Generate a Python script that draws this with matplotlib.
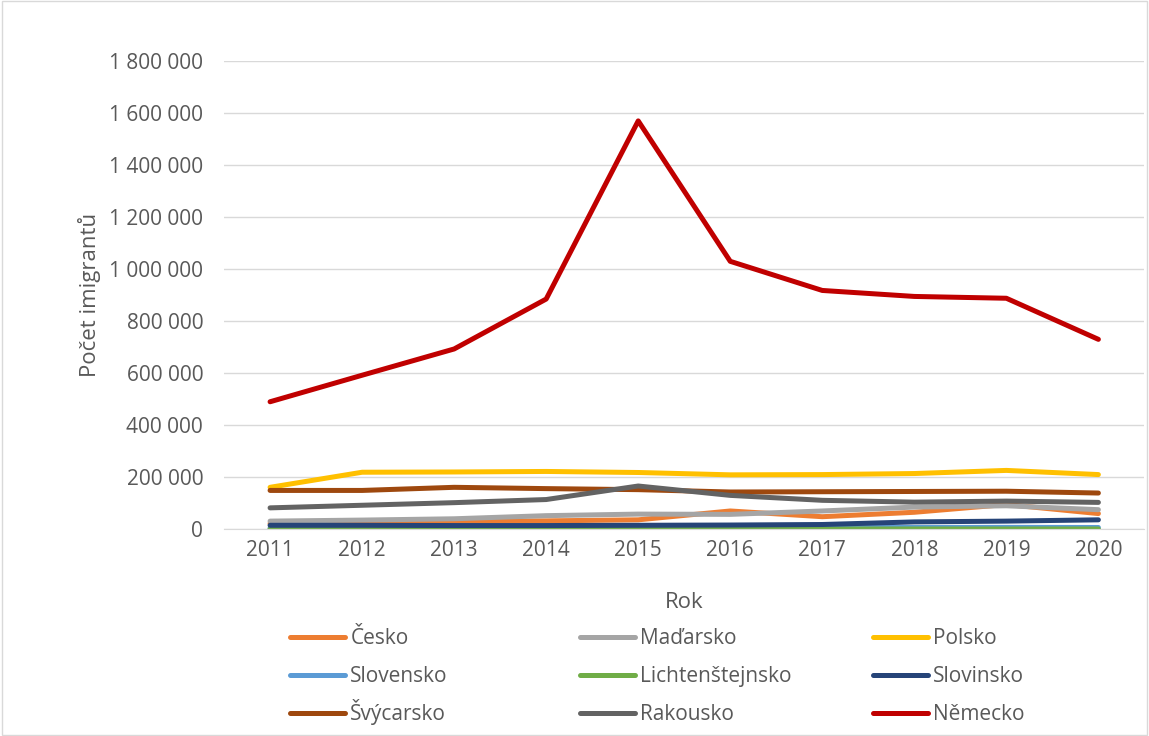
import numpy as np
import matplotlib
matplotlib.use("Agg")
import matplotlib.pyplot as plt
from matplotlib.ticker import FuncFormatter
from matplotlib.patches import Rectangle
from matplotlib.lines import Line2D

plt.rcParams['font.family'] = ['Open Sans', 'DejaVu Sans']

years = [2011, 2012, 2013, 2014, 2015, 2016, 2017, 2018, 2019, 2020]

cesko = [22000, 28000, 30000, 32000, 36000, 70000, 48000, 65000, 95000, 60000]
madarsko = [31000, 35000, 40000, 52000, 58000, 57000, 70000, 85000, 90000, 75000]
polsko = [161000, 219000, 220000, 222000, 218000, 209000, 210000, 214000, 226000, 210000]
slovensko = [4000, 4000, 4500, 5000, 5000, 5500, 6000, 6500, 7000, 6500]
lichtenstejnsko = [600, 600, 650, 650, 700, 700, 700, 750, 750, 700]
slovinsko = [15000, 15000, 14000, 14000, 15000, 16000, 18000, 28000, 31000, 36000]
svycarsko = [149000, 149000, 161000, 156000, 152000, 143000, 144000, 145000, 146000, 139000]
rakousko = [82000, 92000, 102000, 114000, 166000, 130000, 111000, 104000, 108000, 103000]
nemecko = [490000, 592000, 693000, 885000, 1570000, 1030000, 918000, 895000, 888000, 730000]

series = [
    ("Česko", cesko, "#ED7D31"),
    ("Maďarsko", madarsko, "#A5A5A5"),
    ("Polsko", polsko, "#FFC000"),
    ("Slovensko", slovensko, "#5B9BD5"),
    ("Lichtenštejnsko", lichtenstejnsko, "#70AD47"),
    ("Slovinsko", slovinsko, "#264478"),
    ("Švýcarsko", svycarsko, "#9E480E"),
    ("Rakousko", rakousko, "#636363"),
    ("Německo", nemecko, "#C00000"),
]

txt = "#595959"
grid = "#D9D9D9"

fig = plt.figure(figsize=(11.49, 7.36), dpi=100)
ax = fig.add_axes([0.195, 0.281, 0.801, 0.636])

lines = []
for name, vals, col in series:
    ln, = ax.plot(years, vals, color=col, lw=3.6, label=name, solid_capstyle='round')
    lines.append(ln)

ax.set_xlim(2010.5, 2020.5)
ax.set_ylim(0, 1800000)
ax.set_xticks(years)
ax.set_yticks(np.arange(0, 1800001, 200000))
ax.yaxis.set_major_formatter(FuncFormatter(lambda v, p: f"{int(v):,}".replace(",", " ")))
ax.grid(axis='y', color=grid, lw=1)
ax.set_axisbelow(True)
for s in ['top', 'right', 'left']:
    ax.spines[s].set_visible(False)
ax.spines['bottom'].set_color(grid)
ax.tick_params(length=0, labelsize=15, colors=txt, pad=8)
ax.tick_params(axis='y', pad=15)

ax.set_xlabel("Rok", fontsize=16, color=txt, labelpad=22)
ax.set_ylabel("Počet imigrantů", fontsize=16, color=txt, labelpad=6)

# legend drawn by hand on a 3x3 grid (row-wise like Excel), so rows share baselines
col_x = [0.2524, 0.5048, 0.7598]
row_y = [0.1345, 0.0829, 0.0313]
for i, ln in enumerate(lines):
    r, c = divmod(i, 3)
    x0, y0 = col_x[c], row_y[r]
    fig.add_artist(Line2D([x0, x0 + 0.048], [y0, y0], transform=fig.transFigure,
                          color=ln.get_color(), lw=3.6, solid_capstyle='round'))
    fig.text(x0 + 0.0525, y0 - 0.0095, ln.get_label(), fontsize=15, color=txt,
             ha='left', va='baseline')

fig.patches.append(Rectangle((0.002, 0.002), 0.996, 0.996, transform=fig.transFigure,
                             fill=False, edgecolor=grid, lw=1))

fig.savefig("out.png", dpi=100)
